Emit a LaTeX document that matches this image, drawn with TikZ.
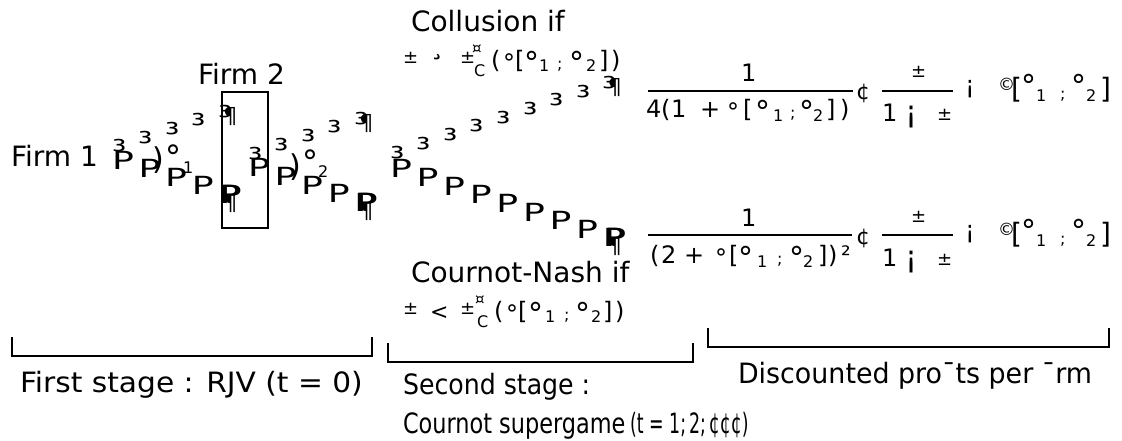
\documentclass[tikz,border=0pt]{standalone}
\usepackage{fontspec}
\setmainfont{DejaVu Sans}
\newcommand\fsz[1]{\fontsize{#1}{#1}\selectfont}
\newcounter{gc}
\tikzset{
  g/.style={anchor=base west, inner sep=0pt, outer sep=0pt},
  big/.style={font=\fsz{28}},
  mid/.style={font=\fsz{24}},
  sml/.style={font=\fsz{16}},
  tny/.style={font=\fsz{18}},
  pch/.style={font=\fsz{25}},
  tch/.style={font=\fsz{30}},
  ech/.style={font=\fsz{22}},
  rule/.style={line width=1.8pt},
  fbar/.style={line width=1.4pt},
}
\newcommand\G[4][]{\stepcounter{gc}\node[g,#1] (g\arabic{gc}) at (#2,#3) {#4};}
\newcommand\wP{\scalebox{1.45}[1]{P}}
\newcommand\wT{\scalebox{1.2}[1]{³}}
% #1 x0, #2 baseline of first P, #3 baseline of first superscript 3, #4 number of steps
\newcommand\fork[4]{%
  \pgfmathtruncatemacro\nn{#4-1}%
  \foreach \i in {0,...,\nn}{%
    \G[pch]{#1+26.6*\i}{#2+8.6*\i}{\wP}
    \G[tch]{#1+26.6*\i}{#3-8.7*\i}{\wT}
  }%
  \G[pch]{#1+26.6*#4}{#2+8.6*#4}{\wP}
  \G[pch]{#1+26.6*#4+1.5}{#2+8.6*#4}{\wP}
  \G[ech]{#1+26.6*#4+5}{#2+8.6*#4+7}{¶}
  \G[tch]{#1+26.6*#4}{#3-8.7*#4}{\wT}
  \G[ech]{#1+26.6*#4+5}{#3-8.7*#4-4}{¶}
}
\begin{document}
\begin{tikzpicture}[x=1pt,y=-1pt]
\useasboundingbox (0,0) rectangle (1122,441);
% ---- firms and branches
\G[big]{11}{167}{Firm 1}
\G[big]{198}{85}{Firm 2}
\draw[rule] (222,92) rectangle (268,228);
\fork{112}{169}{162}{4}
\fork{248}{177}{169}{4}
\fork{390}{178}{168}{8}
\G[font=\fsz{30}]{152}{169}{)}
\G[font=\fsz{32}]{165}{168}{°}
\G[sml]{183}{173}{1}
\G[font=\fsz{30}]{289}{176}{)}
\G[font=\fsz{32}]{302}{174}{°}
\G[sml]{318}{178}{2}
% ---- collusion condition
\G[big]{411}{32}{Collusion if}
\G[tny]{403}{64}{±}
\G[font=\fsz{28}]{430}{55}{¸}
\G[tny]{460}{64}{±}
\G[font=\fsz{15}]{472}{54}{¤}
\G[sml]{474}{77}{C}
\G[mid]{491}{69}{(}
\G[mid]{503}{72}{°}
\G[mid]{515}{69}{[}
\G[font=\fsz{30}]{524}{74}{°}
\G[sml]{539}{72}{1}
\G[sml]{557}{70}{;}
\G[font=\fsz{30}]{569}{74}{°}
\G[sml]{586}{72}{2}
\G[mid]{599}{69}{]}
\G[mid]{611}{69}{)}
% ---- cournot condition
\G[big]{411}{282}{Cournot-Nash if}
\G[tny]{403}{314}{±}
\G[font=\fsz{22}]{430}{319}{<}
\G[tny]{460}{314}{±}
\G[font=\fsz{15}]{475}{304}{¤}
\G[sml]{477}{327}{C}
\G[mid]{494}{319}{(}
\G[mid]{506}{322}{°}
\G[mid]{518}{319}{[}
\G[font=\fsz{30}]{528}{324}{°}
\G[sml]{545}{322}{1}
\G[sml]{564}{320}{;}
\G[font=\fsz{30}]{575}{324}{°}
\G[sml]{591}{322}{2}
\G[mid]{603}{319}{]}
\G[mid]{615}{319}{)}
% ---- profit row 1
\G[mid]{741}{82}{1}
\draw[fbar] (648,91) -- (853,91);
\G[mid]{646}{118}{4}
\G[mid]{661}{118}{(}
\G[mid]{671}{118}{1}
\G[mid]{700}{118}{+}
\G[mid]{727}{121}{°}
\G[mid]{743}{118}{[}
\G[font=\fsz{30}]{755}{123}{°}
\G[sml]{773}{122}{1}
\G[sml]{790}{119}{;}
\G[font=\fsz{30}]{799}{123}{°}
\G[sml]{813}{122}{2}
\G[mid]{826}{118}{]}
\G[mid]{840}{118}{)}
% ---- profit row 2
\G[mid]{741}{226}{1}
\draw[fbar] (648,235) -- (852,235);
\G[mid]{650}{263}{(}
\G[mid]{661}{263}{2}
\G[mid]{684}{263}{+}
\G[mid]{715}{266}{°}
\G[mid]{729}{263}{[}
\G[font=\fsz{30}]{738}{268}{°}
\G[sml]{757}{267}{1}
\G[sml]{777}{264}{;}
\G[font=\fsz{30}]{789}{268}{°}
\G[sml]{803}{267}{2}
\G[mid]{818}{263}{]}
\G[mid]{828}{263}{)}
\G[mid]{841}{263}{²}
% ---- common right parts
\foreach \dy in {0,144}{
  \G[font=\fsz{22}]{856}{100+\dy}{¢}
  \G[font=\fsz{18}]{911}{78+\dy}{±}
  \draw[fbar] (882,91+\dy) -- (953,91+\dy);
  \G[mid]{882}{122+\dy}{1}
  \G[font=\fsz{30}]{905}{123+\dy}{¡}
  \G[font=\fsz{18}]{937}{121+\dy}{±}
  \G[font=\fsz{24}]{965}{94+\dy}{¡}
  \G[font=\fsz{17}]{998}{91+\dy}{©}
  \G[font=\fsz{28}]{1011}{99+\dy}{[}
  \G[font=\fsz{30}]{1021}{97+\dy}{°}
  \G[sml]{1036}{102+\dy}{1}
  \G[sml]{1060}{100+\dy}{;}
  \G[font=\fsz{30}]{1071}{97+\dy}{°}
  \G[sml]{1086}{102+\dy}{2}
  \G[font=\fsz{28}]{1100}{99+\dy}{]}
}
% ---- brackets and stage labels
\coordinate (la) at (12,337); \coordinate (lb) at (372,337);
\coordinate (ma) at (388,343); \coordinate (mb) at (693,343);
\coordinate (ra) at (708,328); \coordinate (rb) at (1109,328);
\draw[rule] (la) -- ++(0,19) -| (lb);
\draw[rule] (ma) -- ++(0,19) -| (mb);
\draw[rule] (ra) -- ++(0,19) -| (rb);
\G[big]{20}{392}{\scalebox{1.06}[1]{First stage : RJV (t = 0)}}
\G[big]{403}{394}{\scalebox{0.9}[1]{Second stage :}}
\G[big]{403}{433}{\scalebox{0.8}[1]{Cournot supergame}\,\scalebox{0.62}[1]{(t = 1;\,2;\,¢¢¢)}}
\G[big]{738}{383}{\scalebox{0.96}[1]{Discounted pro¯ts per ¯rm}}
\end{tikzpicture}
\end{document}
